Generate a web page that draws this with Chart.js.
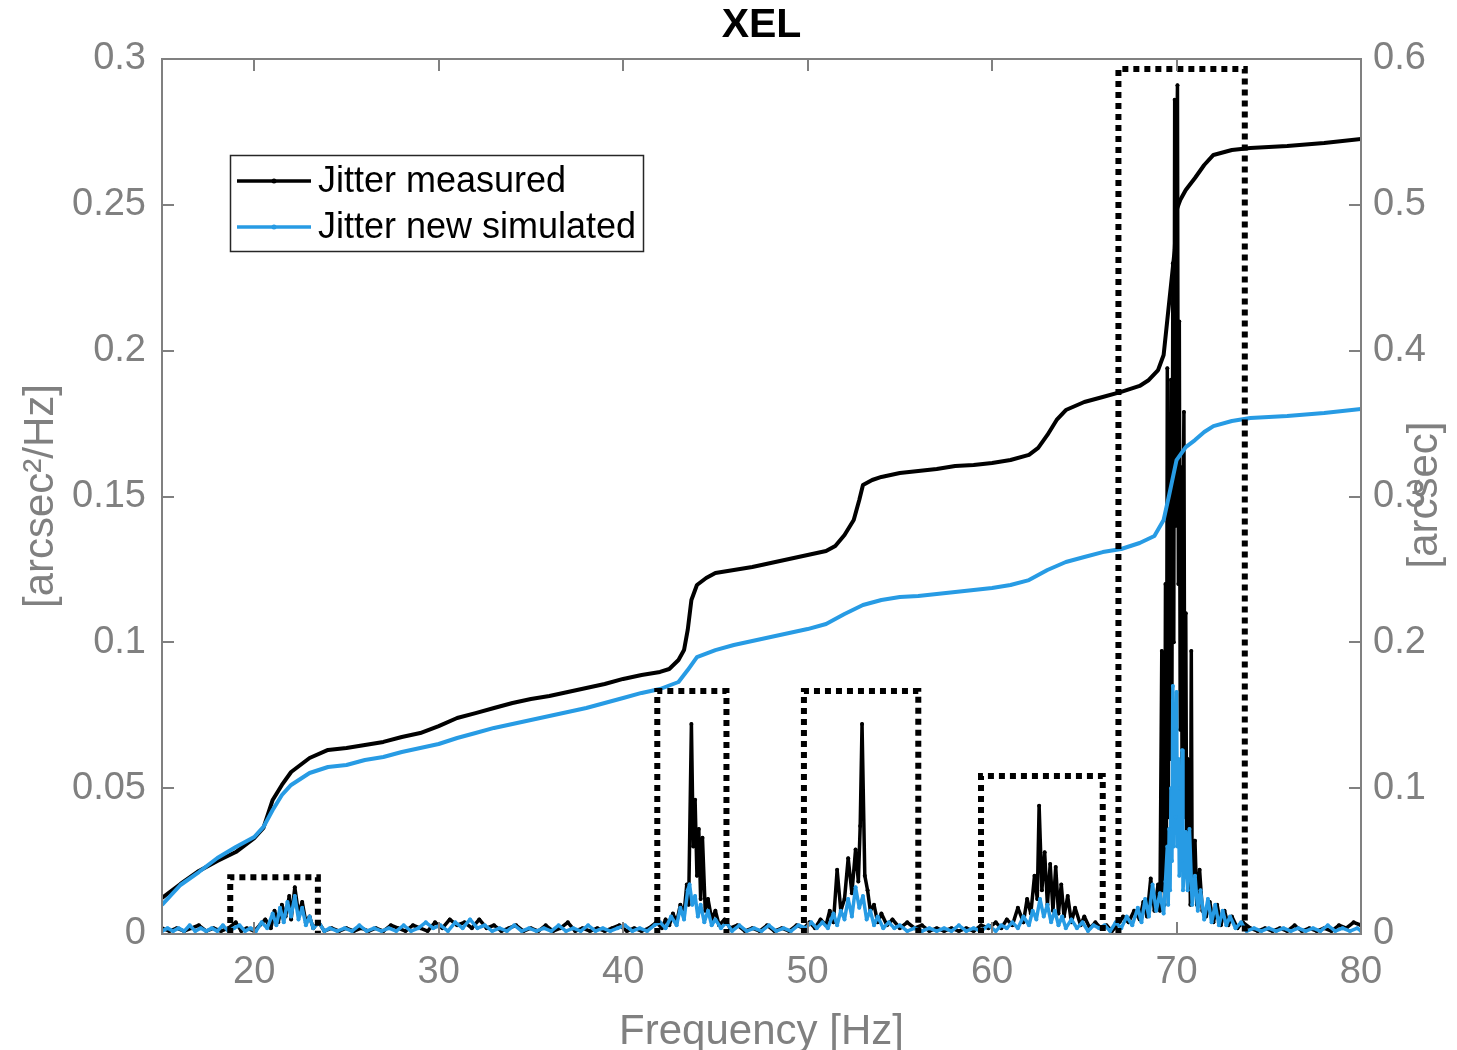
<!DOCTYPE html>
<html>
<head>
<meta charset="utf-8">
<title>XEL</title>
<script src="https://cdn.jsdelivr.net/npm/chart.js@4.4.1/dist/chart.umd.min.js"></script>
<style>
  html, body { margin: 0; padding: 0; background: #fff; }
  canvas { display: block; }
</style>
</head>
<body>
<canvas id="chart" width="1457" height="1050"></canvas>
<script>
// --- data ---

// PSD, left axis [arcsec^2/Hz]
const psdFreqMeasured = [15.0,15.4,15.8,16.2,16.6,17.0,17.4,17.8,18.2,18.6,19.0,19.3,19.6,20.0,20.3,20.6,20.9,21.1,21.3,21.5,21.7,21.9,22.0,22.2,22.4,22.6,22.8,23.0,23.2,23.5,23.8,24.2,24.6,25.0,25.4,25.8,26.2,26.6,27.0,27.4,27.8,28.2,28.6,29.0,29.4,29.8,30.2,30.6,31.0,31.4,31.8,32.2,32.6,33.0,33.4,33.8,34.2,34.6,35.0,35.4,35.8,36.2,36.6,37.0,37.4,37.8,38.2,38.6,39.0,39.4,39.8,40.2,40.6,41.0,41.4,41.8,42.1,42.3,42.5,42.7,42.9,43.1,43.3,43.45,43.55,43.7,43.8,43.9,44.0,44.1,44.2,44.3,44.45,44.6,44.8,45.0,45.2,45.5,45.8,46.2,46.6,47.0,47.4,47.8,48.2,48.6,49.0,49.4,49.8,50.1,50.4,50.7,51.0,51.2,51.4,51.6,51.8,52.0,52.2,52.4,52.6,52.75,52.85,52.95,53.1,53.25,53.4,53.6,53.8,54.0,54.3,54.6,55.0,55.4,55.8,56.2,56.6,57.0,57.4,57.8,58.2,58.6,59.0,59.4,59.8,60.2,60.5,60.8,61.1,61.4,61.7,61.9,62.1,62.3,62.45,62.55,62.7,62.85,63.0,63.15,63.3,63.45,63.6,63.75,63.9,64.1,64.3,64.5,64.8,65.0,65.3,65.6,65.9,66.2,66.5,66.8,67.1,67.4,67.7,68.0,68.2,68.4,68.6,68.8,69.0,69.1,69.2,69.25,69.3,69.35,69.4,69.45,69.5,69.55,69.6,69.65,69.7,69.75,69.8,69.85,69.9,69.95,70.0,70.05,70.1,70.15,70.2,70.25,70.3,70.35,70.4,70.45,70.5,70.55,70.6,70.65,70.7,70.75,70.8,70.85,70.9,71.0,71.1,71.25,71.4,71.6,71.8,72.0,72.2,72.4,72.6,72.8,73.0,73.3,73.6,74.0,74.4,74.8,75.2,75.6,76.0,76.4,76.8,77.2,77.6,78.0,78.4,78.8,79.2,79.6,80.0];
const psdMeasured = [0.002,0.001,0.002,0.001,0.002,0.003,0.001,0.002,0.001,0.002,0.004,0.001,0.002,0.001,0.003,0.005,0.002,0.008,0.004,0.010,0.006,0.013,0.005,0.016,0.007,0.011,0.004,0.006,0.002,0.004,0.001,0.002,0.001,0.002,0.001,0.002,0.001,0.002,0.001,0.003,0.002,0.001,0.003,0.002,0.001,0.004,0.002,0.005,0.003,0.004,0.002,0.005,0.002,0.003,0.001,0.002,0.003,0.001,0.002,0.001,0.003,0.001,0.002,0.004,0.001,0.002,0.001,0.002,0.001,0.002,0.003,0.001,0.002,0.001,0.002,0.004,0.002,0.005,0.003,0.007,0.004,0.010,0.007,0.017,0.010,0.072,0.030,0.046,0.020,0.036,0.012,0.033,0.008,0.012,0.005,0.008,0.003,0.005,0.002,0.003,0.001,0.002,0.001,0.003,0.001,0.002,0.001,0.003,0.002,0.004,0.002,0.005,0.003,0.008,0.004,0.022,0.008,0.012,0.026,0.014,0.029,0.018,0.037,0.072,0.020,0.015,0.008,0.010,0.004,0.007,0.003,0.005,0.002,0.004,0.002,0.003,0.001,0.002,0.001,0.002,0.001,0.002,0.001,0.003,0.002,0.004,0.002,0.005,0.003,0.009,0.004,0.012,0.007,0.020,0.012,0.044,0.015,0.028,0.010,0.024,0.008,0.023,0.007,0.017,0.006,0.013,0.004,0.009,0.003,0.006,0.002,0.004,0.002,0.003,0.001,0.003,0.006,0.004,0.008,0.005,0.011,0.006,0.019,0.008,0.017,0.008,0.097,0.015,0.060,0.010,0.120,0.030,0.194,0.040,0.160,0.060,0.190,0.080,0.230,0.100,0.286,0.140,0.260,0.291,0.120,0.210,0.070,0.160,0.050,0.140,0.179,0.040,0.110,0.025,0.060,0.015,0.045,0.010,0.097,0.012,0.030,0.032,0.010,0.022,0.008,0.006,0.011,0.004,0.010,0.003,0.008,0.003,0.006,0.002,0.004,0.002,0.001,0.002,0.001,0.002,0.001,0.003,0.001,0.002,0.001,0.002,0.001,0.003,0.002,0.004,0.003];

const psdFreqSimulated = [15.0,15.3,15.6,15.9,16.2,16.5,16.8,17.1,17.4,17.7,18.0,18.3,18.6,18.9,19.2,19.5,19.8,20.1,20.4,20.7,21.0,21.2,21.4,21.6,21.8,22.0,22.2,22.4,22.6,22.8,23.0,23.2,23.5,23.8,24.1,24.5,24.9,25.3,25.7,26.1,26.5,26.9,27.3,27.7,28.1,28.5,28.9,29.3,29.7,30.1,30.5,30.9,31.3,31.7,32.1,32.5,32.9,33.3,33.7,34.1,34.5,34.9,35.3,35.7,36.1,36.5,36.9,37.3,37.7,38.1,38.5,38.9,39.3,39.7,40.1,40.5,40.9,41.3,41.7,42.0,42.3,42.6,42.9,43.1,43.3,43.5,43.6,43.75,43.9,44.05,44.2,44.4,44.6,44.8,45.0,45.3,45.6,45.9,46.3,46.7,47.1,47.5,47.9,48.3,48.7,49.1,49.5,49.9,50.2,50.5,50.8,51.1,51.4,51.6,51.8,52.0,52.2,52.4,52.6,52.8,53.0,53.2,53.4,53.6,53.8,54.1,54.4,54.7,55.0,55.4,55.8,56.2,56.6,57.0,57.4,57.8,58.2,58.6,59.0,59.4,59.8,60.2,60.5,60.8,61.1,61.4,61.7,62.0,62.2,62.4,62.6,62.8,63.0,63.2,63.4,63.6,63.8,64.0,64.3,64.6,64.9,65.2,65.5,65.8,66.1,66.4,66.7,67.0,67.3,67.6,67.9,68.1,68.3,68.5,68.7,68.9,69.1,69.3,69.4,69.5,69.55,69.6,69.65,69.7,69.75,69.8,69.85,69.9,69.95,70.0,70.05,70.1,70.15,70.2,70.25,70.3,70.35,70.4,70.5,70.6,70.7,70.85,71.0,71.15,71.3,71.5,71.7,71.9,72.1,72.3,72.5,72.7,72.9,73.2,73.5,73.8,74.2,74.6,75.0,75.4,75.8,76.2,76.6,77.0,77.4,77.8,78.2,78.6,79.0,79.4,79.8,80.0];
const psdSimulated = [0.001,0.002,0.001,0.002,0.001,0.003,0.001,0.002,0.001,0.002,0.001,0.003,0.001,0.002,0.003,0.001,0.002,0.001,0.004,0.002,0.007,0.003,0.009,0.004,0.011,0.006,0.013,0.005,0.009,0.003,0.006,0.002,0.004,0.001,0.002,0.001,0.002,0.001,0.003,0.001,0.002,0.001,0.002,0.001,0.003,0.001,0.002,0.004,0.002,0.003,0.001,0.004,0.002,0.005,0.002,0.003,0.001,0.002,0.001,0.003,0.001,0.002,0.001,0.002,0.001,0.003,0.001,0.002,0.001,0.003,0.001,0.002,0.001,0.002,0.003,0.001,0.002,0.001,0.003,0.004,0.002,0.006,0.003,0.009,0.005,0.015,0.017,0.010,0.013,0.006,0.010,0.004,0.008,0.003,0.005,0.002,0.004,0.001,0.003,0.001,0.002,0.001,0.003,0.001,0.002,0.001,0.003,0.002,0.004,0.002,0.004,0.002,0.007,0.003,0.008,0.005,0.012,0.006,0.016,0.009,0.013,0.005,0.008,0.003,0.006,0.002,0.004,0.002,0.003,0.001,0.002,0.001,0.002,0.001,0.002,0.001,0.003,0.001,0.002,0.001,0.003,0.001,0.003,0.002,0.004,0.002,0.006,0.003,0.008,0.005,0.012,0.006,0.010,0.004,0.008,0.003,0.006,0.002,0.005,0.002,0.004,0.001,0.003,0.002,0.003,0.001,0.004,0.002,0.006,0.003,0.009,0.004,0.012,0.006,0.017,0.008,0.014,0.007,0.018,0.030,0.010,0.036,0.015,0.050,0.025,0.085,0.030,0.070,0.040,0.083,0.030,0.060,0.020,0.050,0.025,0.063,0.015,0.020,0.035,0.015,0.036,0.010,0.020,0.008,0.015,0.005,0.012,0.004,0.010,0.003,0.008,0.003,0.006,0.002,0.004,0.001,0.002,0.001,0.002,0.001,0.002,0.001,0.002,0.001,0.002,0.001,0.003,0.001,0.002,0.001,0.002,0.001];

// cumulative jitter, right axis [arcsec]
const cumFreqMeasured = [15,16,17,18,19,20,20.5,21,21.5,22,23,24,25,26,27,28,29,30,31,32,33,34,35,36,37,38,39,40,41,42,42.5,43,43.3,43.5,43.7,44,44.5,45,46,47,48,49,50,51,51.5,52,52.5,52.8,53,53.5,54,55,56,57,58,59,60,61,62,62.5,63,63.5,64,65,66,67,68,68.5,69,69.3,69.5,69.7,69.9,70,70.2,70.5,71,71.5,72,73,74,76,78,80];
const cumMeasured = [0.0247,0.0343,0.0432,0.0501,0.0562,0.0658,0.0727,0.0919,0.1022,0.1111,0.1207,0.1262,0.1275,0.1296,0.1317,0.1351,0.1378,0.1426,0.1481,0.1515,0.155,0.1584,0.1611,0.1632,0.1659,0.1687,0.1714,0.1749,0.1776,0.1797,0.1817,0.1879,0.1947,0.2085,0.229,0.2393,0.2441,0.2475,0.2496,0.2517,0.2544,0.2571,0.2599,0.2626,0.2661,0.2736,0.2839,0.2976,0.3079,0.3113,0.3134,0.3161,0.3175,0.3189,0.3209,0.3216,0.323,0.325,0.3285,0.3333,0.3422,0.3525,0.3593,0.3648,0.3682,0.3717,0.3758,0.3799,0.3867,0.397,0.421,0.445,0.469,0.4965,0.5033,0.5102,0.5184,0.5273,0.5342,0.5376,0.539,0.5403,0.5424,0.5451];

const cumFreqSimulated = [15,16,17,18,19,20,20.5,21,21.5,22,23,24,25,26,27,28,29,30,31,32,33,34,35,36,37,38,39,40,41,42,43,43.5,44,45,46,47,48,49,50,51,52,53,54,55,56,57,58,59,60,61,62,63,64,65,66,67,68,68.8,69.3,69.6,70,70.5,71,71.5,72,73,74,76,78,80];
const cumSimulated = [0.0199,0.0336,0.0425,0.0521,0.0597,0.0665,0.0734,0.085,0.0953,0.1022,0.1104,0.1145,0.1159,0.1193,0.1214,0.1248,0.1275,0.1303,0.1344,0.1378,0.1413,0.144,0.1467,0.1495,0.1522,0.155,0.1584,0.1618,0.1653,0.168,0.1728,0.181,0.1899,0.1947,0.1982,0.2009,0.2037,0.2064,0.2091,0.2126,0.2194,0.2256,0.229,0.2311,0.2318,0.2331,0.2345,0.2359,0.2373,0.2393,0.2427,0.2496,0.2551,0.2585,0.2619,0.264,0.2681,0.2729,0.2839,0.301,0.325,0.3339,0.3387,0.3442,0.3483,0.3518,0.3538,0.3552,0.3573,0.36];

// dotted boxes around the peak groups (left axis units)
const boxStart = [18.7, 41.85, 49.8, 59.4, 66.85];
const boxEnd = [23.45, 45.6, 56.0, 66.0, 73.7];
const boxTop = [0.0195, 0.0833, 0.0833, 0.0542, 0.2966];

// ticks
const xTicks = [20, 30, 40, 50, 60, 70, 80];
const leftTicks = [0, 0.05, 0.1, 0.15, 0.2, 0.25, 0.3];
const leftTickLabels = ['0', '0.05', '0.1', '0.15', '0.2', '0.25', '0.3'];
const rightTicks = [0, 0.1, 0.2, 0.3, 0.4, 0.5, 0.6];
const rightTickLabels = ['0', '0.1', '0.2', '0.3', '0.4', '0.5', '0.6'];

const seriesNames = ['Jitter measured', 'Jitter new simulated'];

// --- styling ---
const FONT = '"Liberation Sans", Arial, Helvetica, sans-serif';
const GRAY = '#808080';
const BLACK = '#000000';
const BLUE = '#279be4';

function pts(xs, ys) {
  return xs.map((x, i) => ({ x: x, y: ys[i] }));
}

const boxSets = boxStart.map((x0, i) => ({
  label: 'box' + i,
  data: [{ x: x0, y: 0 }, { x: x0, y: boxTop[i] }, { x: boxEnd[i], y: boxTop[i] }, { x: boxEnd[i], y: 0 }],
  yAxisID: 'y',
  borderColor: BLACK,
  borderWidth: 6,
  borderDash: [6, 5],
  borderCapStyle: 'butt',
  pointRadius: 0,
  fill: false,
  tension: 0
}));

const datasets = boxSets.concat([
  {
    label: 'cumSim',
    data: pts(cumFreqSimulated, cumSimulated),
    yAxisID: 'y1',
    borderColor: BLUE,
    borderWidth: 4,
    pointRadius: 0,
    borderJoinStyle: 'round',
    tension: 0
  },
  {
    label: 'cumMeas',
    data: pts(cumFreqMeasured, cumMeasured),
    yAxisID: 'y1',
    borderColor: BLACK,
    borderWidth: 4,
    pointRadius: 0,
    borderJoinStyle: 'round',
    tension: 0
  },
  {
    label: seriesNames[1],
    data: pts(psdFreqSimulated, psdSimulated),
    yAxisID: 'y',
    borderColor: BLUE,
    backgroundColor: BLUE,
    borderWidth: 3.5,
    pointRadius: 2,
    pointBorderWidth: 0,
    borderJoinStyle: 'round',
    tension: 0
  },
  {
    label: seriesNames[0],
    data: pts(psdFreqMeasured, psdMeasured),
    yAxisID: 'y',
    borderColor: BLACK,
    backgroundColor: BLACK,
    borderWidth: 3.5,
    pointRadius: 2,
    pointBorderWidth: 0,
    borderJoinStyle: 'round',
    tension: 0
  }
]);

// frame, inward ticks, titles and legend
const decorations = {
  id: 'decorations',
  afterDatasetsDraw(chart) {
    const { ctx, chartArea: a, scales } = chart;
    ctx.save();
    ctx.strokeStyle = GRAY;
    ctx.lineWidth = 2;
    ctx.strokeRect(a.left, a.top, a.right - a.left, a.bottom - a.top);
    ctx.beginPath();
    xTicks.forEach(v => {
      const px = Math.round(scales.x.getPixelForValue(v));
      ctx.moveTo(px, a.bottom); ctx.lineTo(px, a.bottom - 12);
      ctx.moveTo(px, a.top); ctx.lineTo(px, a.top + 12);
    });
    leftTicks.forEach(v => {
      const py = Math.round(scales.y.getPixelForValue(v));
      ctx.moveTo(a.left, py); ctx.lineTo(a.left + 12, py);
    });
    rightTicks.forEach(v => {
      const py = Math.round(scales.y1.getPixelForValue(v));
      ctx.moveTo(a.right, py); ctx.lineTo(a.right - 12, py);
    });
    ctx.stroke();
    ctx.restore();
  },
  afterDraw(chart) {
    const { ctx, chartArea: a } = chart;
    ctx.save();
    // title
    ctx.fillStyle = BLACK;
    ctx.font = 'bold 41px ' + FONT;
    ctx.textAlign = 'center';
    ctx.textBaseline = 'middle';
    ctx.fillText('XEL', (a.left + a.right) / 2, 26);

    // axis titles
    ctx.fillStyle = GRAY;
    ctx.font = '42px ' + FONT;
    ctx.fillText('Frequency [Hz]', (a.left + a.right) / 2, 1032);
    ctx.save();
    ctx.translate(41, 496);
    ctx.rotate(-Math.PI / 2);
    ctx.fillText('[arcsec\u00B2/Hz]', 0, 0);
    ctx.restore();
    ctx.save();
    ctx.translate(1425, 495);
    ctx.rotate(-Math.PI / 2);
    ctx.fillText('[arcsec]', 0, 0);
    ctx.restore();

    // legend
    const lx = 230, ly = 155, lw = 413, lh = 96;
    ctx.fillStyle = '#ffffff';
    ctx.fillRect(lx, ly, lw, lh);
    ctx.strokeStyle = '#262626';
    ctx.lineWidth = 1.5;
    ctx.strokeRect(lx + 0.5, ly + 0.5, lw, lh);
    const rows = [
      { name: seriesNames[0], color: BLACK, y: 181 },
      { name: seriesNames[1], color: BLUE, y: 227 }
    ];
    rows.forEach(r => {
      ctx.strokeStyle = r.color;
      ctx.lineWidth = 3.5;
      ctx.beginPath();
      ctx.moveTo(237, r.y);
      ctx.lineTo(311, r.y);
      ctx.stroke();
      ctx.fillStyle = r.color;
      ctx.beginPath();
      ctx.arc(274, r.y, 2.5, 0, Math.PI * 2);
      ctx.fill();
      ctx.fillStyle = BLACK;
      ctx.font = '36px ' + FONT;
      ctx.textAlign = 'left';
      ctx.textBaseline = 'middle';
      ctx.fillText(r.name, 318, r.y + 1);
    });
    ctx.restore();
  }
};

const tickFont = { family: FONT, size: 38 };

new Chart(document.getElementById('chart').getContext('2d'), {
  type: 'line',
  data: { datasets: datasets },
  options: {
    responsive: false,
    animation: false,
    layout: { padding: { top: 59, left: 0, right: 0, bottom: 0 } },
    plugins: {
      legend: { display: false },
      tooltip: { enabled: false },
      title: { display: false }
    },
    scales: {
      x: {
        type: 'linear',
        position: 'bottom',
        min: 15,
        max: 80,
        afterFit: s => { s.height = 116; },
        afterBuildTicks: s => { s.ticks = xTicks.map(v => ({ value: v })); },
        grid: { display: false, drawTicks: false },
        border: { display: false },
        ticks: { font: tickFont, color: GRAY, padding: 16, maxRotation: 0, callback: v => String(v) }
      },
      y: {
        type: 'linear',
        position: 'left',
        min: 0,
        max: 0.3,
        afterFit: s => { s.width = 162; },
        afterBuildTicks: s => { s.ticks = leftTicks.map(v => ({ value: v })); },
        grid: { display: false, drawTicks: false },
        border: { display: false },
        ticks: {
          font: tickFont, color: GRAY, padding: 16,
          callback: v => leftTickLabels[leftTicks.findIndex(t => Math.abs(t - v) < 1e-9)]
        }
      },
      y1: {
        type: 'linear',
        position: 'right',
        min: 0,
        max: 0.6,
        afterFit: s => { s.width = 96; },
        afterBuildTicks: s => { s.ticks = rightTicks.map(v => ({ value: v })); },
        grid: { display: false, drawTicks: false },
        border: { display: false },
        ticks: {
          font: tickFont, color: GRAY, padding: 12,
          callback: v => rightTickLabels[rightTicks.findIndex(t => Math.abs(t - v) < 1e-9)]
        }
      }
    }
  },
  plugins: [decorations]
});
</script>
</body>
</html>
